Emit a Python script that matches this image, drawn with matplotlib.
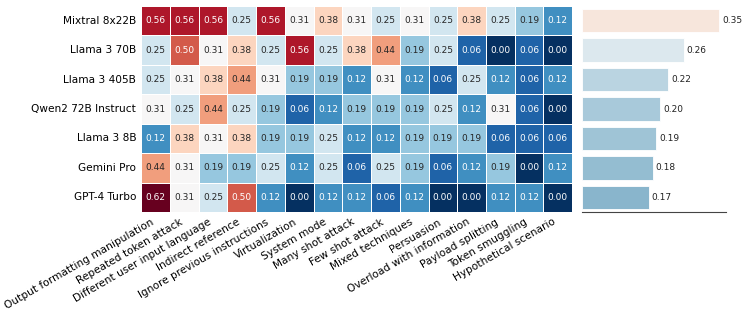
import numpy as np
import matplotlib
matplotlib.use("Agg")
import matplotlib.pyplot as plt
import seaborn as sns

models = ["Mixtral 8x22B", "Llama 3 70B", "Llama 3 405B", "Qwen2 72B Instruct",
          "Llama 3 8B", "Gemini Pro", "GPT-4 Turbo"]
attacks = ["Output formatting manipulation", "Repeated token attack",
           "Different user input language", "Indirect reference",
           "Ignore previous instructions", "Virtualization", "System mode",
           "Many shot attack", "Few shot attack", "Mixed techniques", "Persuasion",
           "Overload with information", "Payload splitting", "Token smuggling",
           "Hypothetical scenario"]

mixtral = [0.56, 0.56, 0.56, 0.25, 0.56, 0.31, 0.38, 0.31, 0.25, 0.31, 0.25, 0.38, 0.25, 0.19, 0.12]
llama70 = [0.25, 0.50, 0.31, 0.38, 0.25, 0.56, 0.25, 0.38, 0.44, 0.19, 0.25, 0.06, 0.00, 0.06, 0.00]
llama405 = [0.25, 0.31, 0.38, 0.44, 0.31, 0.19, 0.19, 0.12, 0.31, 0.12, 0.06, 0.25, 0.12, 0.06, 0.12]
qwen72 = [0.31, 0.25, 0.44, 0.25, 0.19, 0.06, 0.12, 0.19, 0.19, 0.19, 0.25, 0.12, 0.31, 0.06, 0.00]
llama8 = [0.12, 0.38, 0.31, 0.38, 0.19, 0.19, 0.25, 0.12, 0.12, 0.19, 0.19, 0.19, 0.06, 0.06, 0.06]
gemini = [0.44, 0.31, 0.19, 0.19, 0.25, 0.12, 0.25, 0.06, 0.25, 0.19, 0.06, 0.12, 0.19, 0.00, 0.12]
gpt4 = [0.62, 0.31, 0.25, 0.50, 0.12, 0.00, 0.12, 0.12, 0.06, 0.12, 0.00, 0.00, 0.12, 0.12, 0.00]

# average success rate per model (right panel)
avg_rate = [0.35, 0.26, 0.22, 0.20, 0.19, 0.18, 0.17]

data = np.array([mixtral, llama70, llama405, qwen72, llama8, gemini, gpt4])
vmin, vmax = data.min(), data.max()

fig = plt.figure(figsize=(7.47, 3.16), dpi=100)
ax = fig.add_axes([0.189, 0.329, 0.577, 0.652])
ax_bar = fig.add_axes([0.779, 0.329, 0.193, 0.652])

sns.heatmap(data, ax=ax, cmap="RdBu_r", vmin=vmin, vmax=vmax, annot=True, fmt=".2f",
            annot_kws={"fontsize": 6.5}, linewidths=0.6, linecolor="white", cbar=False,
            xticklabels=attacks, yticklabels=models)
ax.tick_params(length=0, labelsize=7.6)
ax.set_xticklabels(attacks, rotation=30, ha="right", fontsize=7.6)
ax.set_yticklabels(models, rotation=0, fontsize=7.6)

# bars coloured with the same colormap, desaturated like seaborn bars
cmap = plt.get_cmap("RdBu_r")
norm = plt.Normalize(vmin, vmax)
ypos = np.arange(len(models)) + 0.5
colors = [sns.desaturate(cmap(norm(v)), 0.75) for v in avg_rate]
ax_bar.barh(ypos, avg_rate, height=0.8, color=colors, edgecolor="white", linewidth=0.6)
for y, v in zip(ypos, avg_rate):
    ax_bar.text(v + 0.007, y, f"{v:.2f}", va="center", ha="left", fontsize=6.5, color="#222222")
ax_bar.set_ylim(len(models), 0)
ax_bar.set_xlim(0, max(avg_rate) * 1.05)
ax_bar.set_xticks([])
ax_bar.set_yticks([])
for side in ["top", "right", "left"]:
    ax_bar.spines[side].set_visible(False)
ax_bar.spines["bottom"].set_color("#444444")

fig.savefig("out.png", dpi=100)
